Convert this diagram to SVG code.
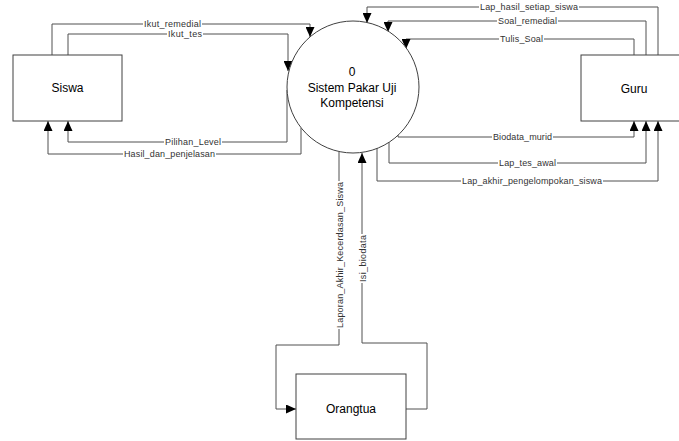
<svg xmlns="http://www.w3.org/2000/svg" width="679" height="441" viewBox="0 0 679 441">
<defs>
<marker id="arr" markerUnits="userSpaceOnUse" markerWidth="10" markerHeight="9" refX="10" refY="4.5" orient="auto">
<path d="M0,0 L10,4.5 L0,9 Z" fill="#000"/>
</marker>
<style>
.node{fill:#fff;stroke:#404040;stroke-width:1}
.name{font-family:"Liberation Sans",Arial,sans-serif;font-size:12px;fill:#000;text-anchor:middle}
.flow{fill:none;stroke:#505050;stroke-width:1;marker-end:url(#arr)}
.lbl{font-family:"Liberation Sans",Arial,sans-serif;font-size:9px;fill:#333;text-anchor:middle}
.bg{fill:#fff}
</style>
</defs>
<rect width="679" height="441" fill="#fff"/>
<g id="connectors">
<path class="flow" d="M52,55 V24 H310 V37"/>
<path class="flow" d="M68,55 V34 H288 V71"/>
<path class="flow" d="M287,90 V142 H68 V121"/>
<path class="flow" d="M301,128 V154 H48 V121"/>
<path class="flow" d="M658,55 V7 H367 V23"/>
<path class="flow" d="M646,55 V21 H388 V32"/>
<path class="flow" d="M634,55 V39 H406 V49"/>
<path class="flow" d="M398,134 V137 H634 V121"/>
<path class="flow" d="M389,142 V163 H646 V121"/>
<path class="flow" d="M377,148 V181 H658 V121"/>
<path class="flow" d="M339,152 V345 H276 V409 H296"/>
<path class="flow" d="M406,409 H427 V343 H362 V153"/>
<g id="labels">
<rect class="bg" x="143" y="19" width="59" height="10"/><text class="lbl" x="172.5" y="27" textLength="57" lengthAdjust="spacing">Ikut_remedial</text>
<rect class="bg" x="167" y="29" width="36" height="10"/><text class="lbl" x="185" y="37" textLength="34" lengthAdjust="spacing">Ikut_tes</text>
<rect class="bg" x="164" y="137" width="58" height="10"/><text class="lbl" x="193" y="145" textLength="56" lengthAdjust="spacing">Pilihan_Level</text>
<rect class="bg" x="123" y="149" width="93" height="10"/><text class="lbl" x="169.5" y="157" textLength="91" lengthAdjust="spacing">Hasil_dan_penjelasan</text>
<rect class="bg" x="479" y="2" width="100" height="10"/><text class="lbl" x="529" y="10" textLength="98" lengthAdjust="spacing">Lap_hasil_setiap_siswa</text>
<rect class="bg" x="497" y="16" width="61" height="10"/><text class="lbl" x="527.5" y="24" textLength="59" lengthAdjust="spacing">Soal_remedial</text>
<rect class="bg" x="499" y="34" width="45" height="10"/><text class="lbl" x="521.5" y="42" textLength="43" lengthAdjust="spacing">Tulis_Soal</text>
<rect class="bg" x="492" y="132" width="61" height="10"/><text class="lbl" x="522.5" y="140" textLength="59" lengthAdjust="spacing">Biodata_murid</text>
<rect class="bg" x="498" y="158" width="59" height="10"/><text class="lbl" x="527.5" y="166" textLength="57" lengthAdjust="spacing">Lap_tes_awal</text>
<rect class="bg" x="461" y="176" width="142" height="10"/><text class="lbl" x="532" y="184" textLength="140" lengthAdjust="spacing">Lap_akhir_pengelompokan_siswa</text>
<rect class="bg" x="334" y="181" width="10" height="148"/><text class="lbl" transform="translate(342.5,255) rotate(-90)" x="0" y="0" textLength="146" lengthAdjust="spacing">Laporan_Akhir_Kecerdasan_Siswa</text>
<rect class="bg" x="357" y="234" width="10" height="49"/><text class="lbl" transform="translate(365.5,258.5) rotate(-90)" x="0" y="0" textLength="47" lengthAdjust="spacing">Isi_biodata</text>
</g>
</g>
<g id="siswa">
<rect class="node" x="13" y="55" width="109" height="66"/>
<text class="name" x="67.5" y="92">Siswa</text>
</g>
<g id="sistem">
<circle class="node" cx="353" cy="87" r="66" fill="none"/>
<text class="name" x="352" y="76">0</text>
<text class="name" x="352" y="92">Sistem Pakar Uji</text>
<text class="name" x="352" y="107">Kompetensi</text>
</g>
<g id="guru">
<rect class="node" x="581" y="55" width="109" height="66"/>
<text class="name" x="634" y="93">Guru</text>
</g>
<g id="orangtua">
<rect class="node" x="296" y="374" width="110" height="65"/>
<text class="name" x="351" y="413">Orangtua</text>
</g>
</svg>
